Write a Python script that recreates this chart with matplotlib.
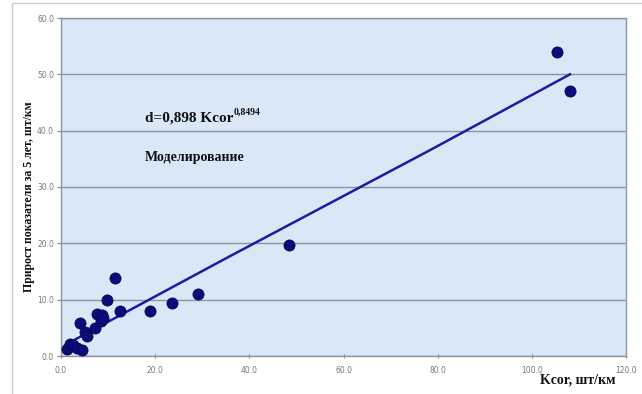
import numpy as np
import matplotlib
matplotlib.use('Agg')
import matplotlib.pyplot as plt
from matplotlib.patches import Rectangle

# Точки наблюдений (Kcor, прирост)
kcor = [1.2, 1.9, 2.6, 3.5, 4.4, 4.0, 5.0, 5.5, 7.2, 7.6, 8.5, 8.8, 9.0, 9.8,
        11.5, 12.5, 19.0, 23.5, 29.0, 48.5, 105.3, 108.1]
prirost = [1.2, 2.2, 2.0, 1.5, 1.0, 5.9, 4.3, 3.5, 4.9, 7.5, 6.2, 7.3, 6.8, 10.0,
           13.9, 8.0, 7.9, 9.4, 11.0, 19.7, 54.0, 47.1]

# Линия моделирования
model_x = [1.6, 34.5, 63.6, 78.5, 108.1]
model_y = [2.3, 17.1, 30.0, 36.6, 50.0]

x_ticks = [0, 20, 40, 60, 80, 100, 120]
y_ticks = [0, 10, 20, 30, 40, 50, 60]

serif = ['Liberation Serif', 'DejaVu Serif']

fig = plt.figure(figsize=(6.42, 3.94), dpi=100)
ax = fig.add_axes([61/642, 1 - 356/394, 565/642, 338/394])

# рамка вокруг диаграммы
fig.patches.append(Rectangle((12/642, -0.1), 1.2, 1 - 3/394 + 0.1, transform=fig.transFigure,
                             fill=False, edgecolor='#cfcfcf', linewidth=1))

ax.set_facecolor('#dae7f6')
ax.set_xlim(0, 120)
ax.set_ylim(0, 60)
ax.set_xticks(x_ticks)
ax.set_yticks(y_ticks)
ax.set_xticklabels(['%.1f' % v for v in x_ticks])
ax.set_yticklabels(['%.1f' % v for v in y_ticks])
ax.tick_params(labelsize=5.5, labelcolor='#777777', color='#888888', length=3, width=0.8)
ax.tick_params(axis='x', direction='inout', pad=6)
ax.tick_params(axis='y', direction='out', pad=2)
ax.grid(axis='y', color='#8796a4', linewidth=1)
ax.set_axisbelow(True)
for s in ax.spines.values():
    s.set_color('#8a95a0')
    s.set_linewidth(1)

ax.plot(model_x, model_y, color='#1c1ca0', linewidth=1.8, zorder=3)
ax.scatter(kcor, prirost, s=65, color='#0b0b7a', edgecolor='#05054a', linewidth=0.5, zorder=4)

# формула: основная часть + показатель степени
t1 = ax.text(17.8, 42.3, 'd=0,898 Kcor', fontsize=11, fontweight='bold',
             family=serif, color='#111111', va='center')
ax.annotate('0,8494', xy=(1, 0.55), xycoords=t1, xytext=(0.5, 0), textcoords='offset points',
            fontsize=7, fontweight='bold', family=serif, color='#111111', va='bottom')
ax.text(17.8, 35.2, 'Моделирование', fontsize=10, fontweight='bold',
        family=serif, color='#111111', va='center')

fig.text(615/642, 1 - 380/394, 'Kcor, шт/км', ha='right', va='center', fontsize=10,
         fontweight='bold', family=serif, color='#111111')
fig.text(29/642, 1 - 197/394, 'Прирост показателя за 5 лет, шт/км', rotation=90,
         ha='center', va='center', fontsize=8.5, fontweight='bold', family=serif,
         color='#111111')

fig.savefig('out.png', dpi=100)
